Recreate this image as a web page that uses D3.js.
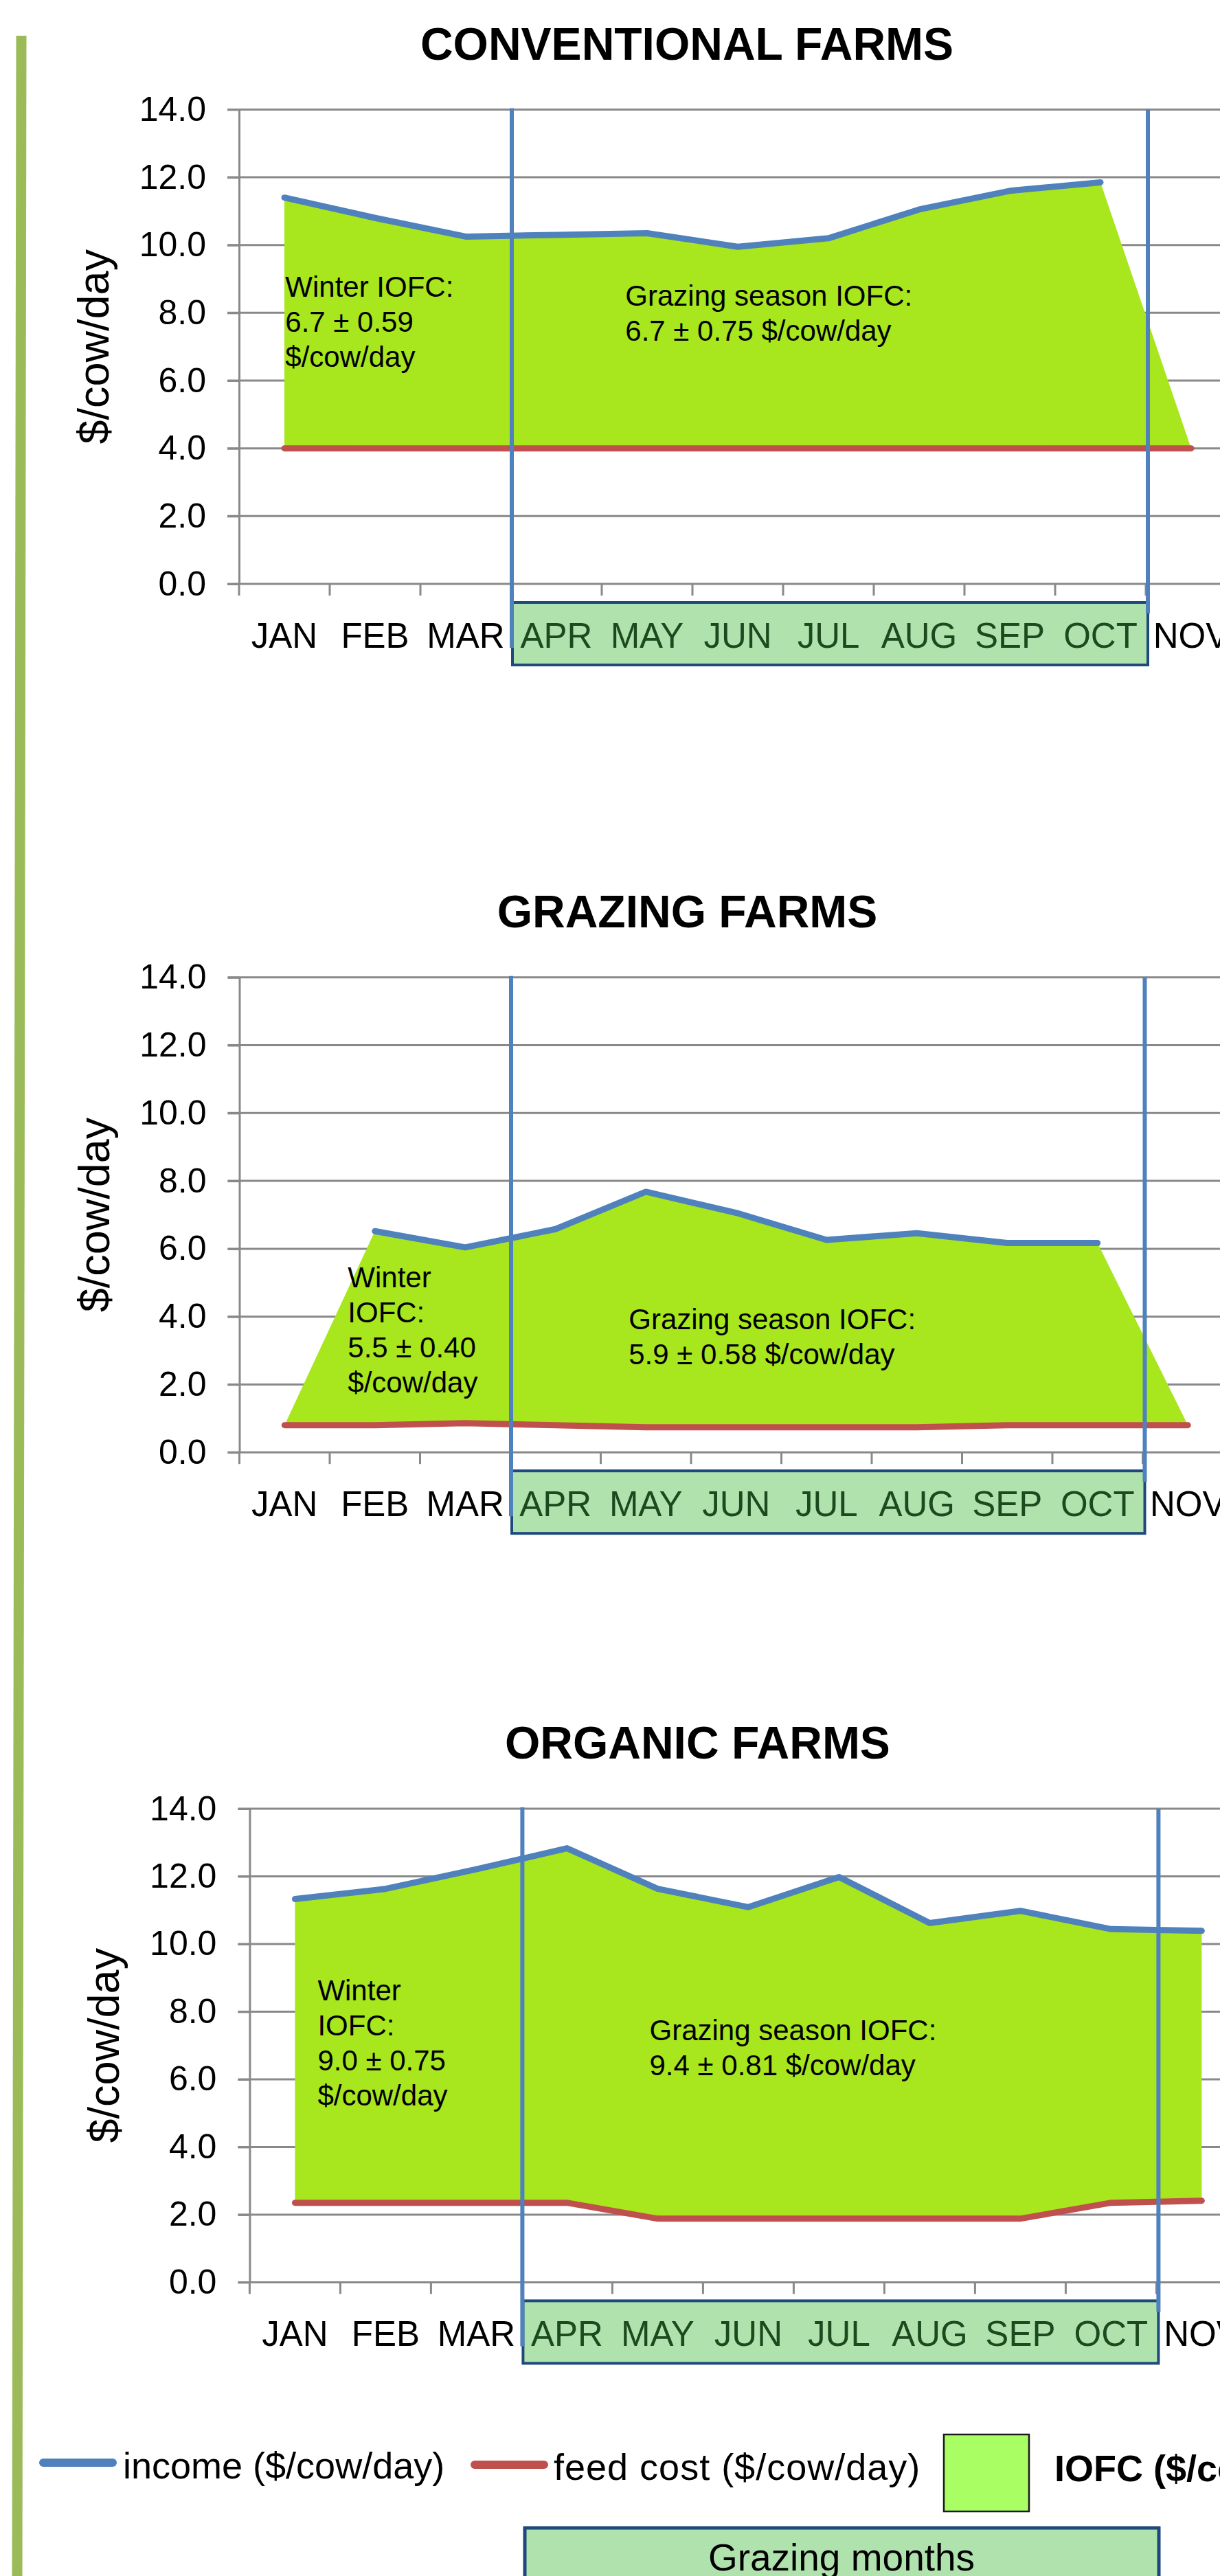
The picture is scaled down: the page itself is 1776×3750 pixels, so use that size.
<!DOCTYPE html>
<html>
<head>
<meta charset="utf-8">
<script src="https://cdn.jsdelivr.net/npm/d3@7"></script>
<style>
  body { margin: 0; background: #fff; }
  text { font-family: "Liberation Sans", Arial, sans-serif; }
</style>
</head>
<body>
<div id="chart"></div>
<script>
// months shown on the x axis, and the ones inside the grazing box
var months = ["JAN", "FEB", "MAR", "APR", "MAY", "JUN", "JUL", "AUG", "SEP", "OCT", "NOV"];
var grazingMonths = ["APR", "MAY", "JUN", "JUL", "AUG", "SEP", "OCT"];
var yTicks = [0, 2, 4, 6, 8, 10, 12, 14];

var titles = ["CONVENTIONAL FARMS", "GRAZING FARMS", "ORGANIC FARMS"];

// income and feed cost, $/cow/day (null = no income point that month)
var convIncome = [11.4, 10.8, 10.25, 10.3, 10.35, 9.95, 10.2, 11.05, 11.6, 11.85, null];
var convFeed = [4.0, 4.0, 4.0, 4.0, 4.0, 4.0, 4.0, 4.0, 4.0, 4.0, 4.0];
var grazIncome = [null, 6.52, 6.04, 6.58, 7.68, 7.06, 6.26, 6.46, 6.17, 6.17, null];
var grazFeed = [0.8, 0.8, 0.86, 0.8, 0.74, 0.74, 0.74, 0.74, 0.8, 0.8, 0.8];
var orgIncome = [11.33, 11.63, 12.21, 12.83, 11.63, 11.09, 11.98, 10.62, 10.98, 10.44, 10.39];
var orgFeed = [2.35, 2.35, 2.35, 2.35, 1.88, 1.88, 1.88, 1.88, 1.88, 2.35, 2.41];

var winterText = [
    ["Winter IOFC:", "6.7 \u00b1 0.59", "$/cow/day"],
    ["Winter", "IOFC:", "5.5 \u00b1 0.40", "$/cow/day"],
    ["Winter", "IOFC:", "9.0 \u00b1 0.75", "$/cow/day"]
];
var grazingText = [
    ["Grazing season IOFC:", "6.7 \u00b1 0.75 $/cow/day"],
    ["Grazing season IOFC:", "5.9 \u00b1 0.58 $/cow/day"],
    ["Grazing season IOFC:", "9.4 \u00b1 0.81 $/cow/day"]
];
var legendLabels = ["income ($/cow/day)", "feed cost ($/cow/day)", "IOFC ($/cow/day)"];

// layout of the three panels (pixels)
var layouts = [
    { left: 348, top: 159.4, bottom: 850, band: 132, titleY: 87 },
    { left: 348.5, top: 1422.8, bottom: 2114.2, band: 131.5, titleY: 1350 },
    { left: 363.4, top: 2633, bottom: 3322.4, band: 132, titleY: 2560 }
];
// where the annotations sit: month band, fraction across it, value of first baseline
var winterPos = [{ m: "JAN", f: 0.51, v: 8.47 }, { m: "FEB", f: 0.2, v: 4.87 }, { m: "JAN", f: 0.75, v: 8.33 }];
var grazingPos = [{ m: "MAY", f: 0.26, v: 8.21 }, { m: "MAY", f: 0.31, v: 3.62 }, { m: "MAY", f: 0.41, v: 7.16 }];

var W = 1776, H = 3750;
var gridColor = "#898989",
    incomeColor = "#4F81BD",
    feedColor = "#C0504D",
    areaColor = "#A8E61E";

var svg = d3.select("#chart").append("svg")
    .attr("width", W)
    .attr("height", H);

svg.append("rect").attr("width", W).attr("height", H).attr("fill", "#fff");

// green bar down the left side
svg.append("line")
    .attr("x1", 31).attr("y1", 52)
    .attr("x2", 25).attr("y2", H)
    .attr("stroke", "#9BBB59")
    .attr("stroke-width", 15);

var series = [[convIncome, convFeed], [grazIncome, grazFeed], [orgIncome, orgFeed]];

series.forEach(function (s, i) {
    drawPanel(layouts[i], titles[i], s[0], s[1], winterText[i], winterPos[i], grazingText[i], grazingPos[i]);
});

function drawPanel(L, title, income, feed, wText, wPos, gText, gPos) {
    var g = svg.append("g");

    var x = d3.scaleBand()
        .domain(months)
        .range([L.left, L.left + months.length * L.band]);
    var y = d3.scaleLinear()
        .domain([0, 14])
        .range([L.bottom, L.top]);
    var cx = function (m) { return x(m) + x.bandwidth() / 2; };

    var rows = months.map(function (m, i) {
        return { m: m, inc: income[i], feed: feed[i] };
    });

    // horizontal gridlines
    g.selectAll(".grid")
        .data(yTicks)
        .enter().append("line")
        .attr("class", "grid")
        .attr("x1", L.left - 17)
        .attr("x2", W)
        .attr("y1", function (d) { return y(d); })
        .attr("y2", function (d) { return y(d); })
        .attr("stroke", gridColor)
        .attr("stroke-width", 3);

    var yAxis = d3.axisLeft(y)
        .tickValues(yTicks)
        .tickFormat(d3.format(".1f"))
        .tickSize(17)
        .tickSizeOuter(0)
        .tickPadding(31);

    var ax = g.append("g")
        .attr("transform", "translate(" + L.left + ",0)")
        .call(yAxis);
    ax.select(".domain").attr("stroke", gridColor).attr("stroke-width", 3);
    ax.selectAll(".tick line").attr("stroke", gridColor).attr("stroke-width", 3);
    ax.selectAll(".tick text")
        .attr("fill", "#000")
        .style("font-size", "50px")
        .style("font-family", "'Liberation Sans', Arial, sans-serif");

    // x tick marks on band edges
    g.selectAll(".xtick")
        .data(months)
        .enter().append("line")
        .attr("class", "xtick")
        .attr("x1", function (d) { return x(d); })
        .attr("x2", function (d) { return x(d); })
        .attr("y1", y(0))
        .attr("y2", y(0) + 17)
        .attr("stroke", gridColor)
        .attr("stroke-width", 3);

    // IOFC area between feed cost and income
    var area = d3.area()
        .x(function (d) { return cx(d.m); })
        .y0(function (d) { return y(d.feed); })
        .y1(function (d) { return y(d.inc != null ? d.inc : d.feed); });

    g.append("path")
        .datum(rows)
        .attr("d", area)
        .attr("fill", areaColor);

    var feedLine = d3.line()
        .x(function (d) { return cx(d.m); })
        .y(function (d) { return y(d.feed); });
    g.append("path")
        .datum(rows)
        .attr("d", feedLine)
        .attr("fill", "none")
        .attr("stroke", feedColor)
        .attr("stroke-width", 9)
        .attr("stroke-linecap", "round");

    var incLine = d3.line()
        .defined(function (d) { return d.inc != null; })
        .x(function (d) { return cx(d.m); })
        .y(function (d) { return y(d.inc); });
    g.append("path")
        .datum(rows)
        .attr("d", incLine)
        .attr("fill", "none")
        .attr("stroke", incomeColor)
        .attr("stroke-width", 9)
        .attr("stroke-linecap", "round")
        .attr("stroke-linejoin", "round");

    // annotations
    function note(lines, pos) {
        var t = g.append("text")
            .attr("x", x(pos.m) + pos.f * x.bandwidth())
            .attr("y", y(pos.v))
            .style("font-size", "42px")
            .attr("fill", "#000");
        lines.forEach(function (s, i) {
            t.append("tspan")
                .attr("x", x(pos.m) + pos.f * x.bandwidth())
                .attr("dy", i == 0 ? 0 : 51)
                .text(s);
        });
    }
    note(wText, wPos);
    note(gText, gPos);

    // grazing months box
    var bx0 = x("APR") + 2,
        bx1 = x("NOV") + 3;
    g.append("rect")
        .attr("x", bx0)
        .attr("y", y(0) + 27)
        .attr("width", bx1 - bx0)
        .attr("height", 91)
        .attr("fill", "#B0E2AE")
        .attr("stroke", "#1F497D")
        .attr("stroke-width", 4);

    g.selectAll(".mlabel")
        .data(months)
        .enter().append("text")
        .attr("class", "mlabel")
        .attr("x", function (d) { return cx(d); })
        .attr("y", y(0) + 93)
        .attr("text-anchor", "middle")
        .style("font-size", "51px")
        .attr("fill", function (d) {
            return grazingMonths.indexOf(d) >= 0 ? "#1C4A1E" : "#000";
        })
        .text(function (d) { return d; });

    // vertical markers for the grazing season
    g.append("line")
        .attr("x1", bx0 - 1).attr("x2", bx0 - 1)
        .attr("y1", y(14) - 2).attr("y2", y(0) + 93)
        .attr("stroke", incomeColor)
        .attr("stroke-width", 6);
    g.append("line")
        .attr("x1", bx1).attr("x2", bx1)
        .attr("y1", y(14)).attr("y2", y(0) + 43)
        .attr("stroke", incomeColor)
        .attr("stroke-width", 6);

    g.append("text")
        .attr("x", L.left + 652)
        .attr("y", L.titleY)
        .attr("text-anchor", "middle")
        .style("font-size", "66px")
        .style("font-weight", "bold")
        .text(title);

    g.append("text")
        .attr("transform", "translate(" + (L.left - 212) + "," + ((L.top + L.bottom) / 2) + ") rotate(-90)")
        .attr("text-anchor", "middle")
        .attr("dy", "0.35em")
        .style("font-size", "63px")
        .text("$/cow/day");
}

// legend
var lg = svg.append("g");
lg.append("line")
    .attr("x1", 63).attr("x2", 164)
    .attr("y1", 3585).attr("y2", 3585)
    .attr("stroke", incomeColor)
    .attr("stroke-width", 12)
    .attr("stroke-linecap", "round");
lg.append("text")
    .attr("x", 179).attr("y", 3608)
    .style("font-size", "54px")
    .text(legendLabels[0]);
lg.append("line")
    .attr("x1", 691).attr("x2", 792)
    .attr("y1", 3588).attr("y2", 3588)
    .attr("stroke", feedColor)
    .attr("stroke-width", 12)
    .attr("stroke-linecap", "round");
lg.append("text")
    .attr("x", 806).attr("y", 3610)
    .style("font-size", "54px")
    .style("letter-spacing", "1px")
    .text(legendLabels[1]);
lg.append("rect")
    .attr("x", 1374).attr("y", 3544)
    .attr("width", 124).attr("height", 112)
    .attr("fill", "#A8FE62")
    .attr("stroke", "#1a1a1a")
    .attr("stroke-width", 2.5);
lg.append("text")
    .attr("x", 1535).attr("y", 3612)
    .style("font-size", "54px")
    .style("font-weight", "bold")
    .text(legendLabels[2]);

lg.append("rect")
    .attr("x", 764).attr("y", 3680)
    .attr("width", 923).attr("height", 120)
    .attr("fill", "#B0E2AE")
    .attr("stroke", "#1F497D")
    .attr("stroke-width", 5);
lg.append("text")
    .attr("x", 1225).attr("y", 3742)
    .attr("text-anchor", "middle")
    .style("font-size", "55px")
    .text("Grazing months");
</script>
</body>
</html>
